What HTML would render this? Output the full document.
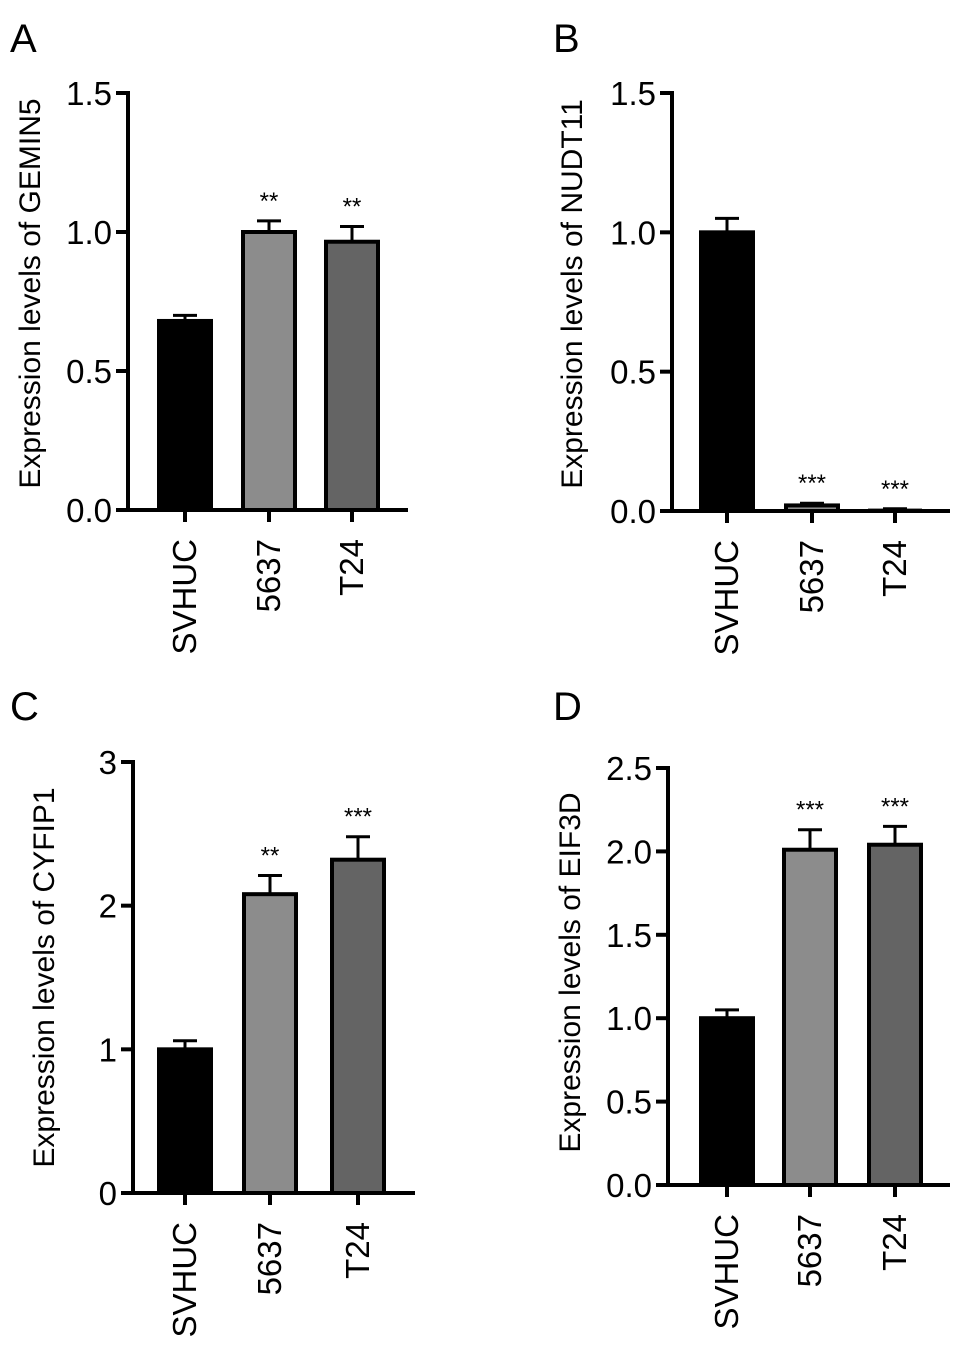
<!DOCTYPE html>
<html><head><meta charset="utf-8"><style>
body{margin:0;background:#fff;}
svg{display:block;font-family:"Liberation Sans",Arial,sans-serif;}
</style></head><body>
<svg id="c" width="969" height="1349" viewBox="0 0 969 1349"></svg>
<script>
const categories=["SVHUC","5637","T24"];
const valsA=[0.68,1.0,0.965], errA=[0.02,0.04,0.055], sigA=["","**","**"];
const valsB=[1.0,0.02,0.005], errB=[0.05,0.008,0.003], sigB=["","***","***"];
const valsC=[1.0,2.08,2.32], errC=[0.06,0.13,0.16], sigC=["","**","***"];
const valsD=[1.0,2.01,2.04], errD=[0.05,0.12,0.11], sigD=["","***","***"];
const ticksA=["0.0","0.5","1.0","1.5"], ticksB=["0.0","0.5","1.0","1.5"], ticksC=["0","1","2","3"], ticksD=["0.0","0.5","1.0","1.5","2.0","2.5"];
const fills=["#000","#8c8c8c","#646464"];
const NS="http://www.w3.org/2000/svg";
const svg=document.getElementById('c');
function el(t,a,p){const e=document.createElementNS(NS,t);for(const k in a)e.setAttribute(k,a[k]);(p||svg).appendChild(e);return e;}
function panel(o){
  const g=el('g',{});
  
  
  const max=parseFloat(o.ticks[o.ticks.length-1]);
  const y=v=>o.y0-(v/max)*(o.y0-o.yTop);
  const lt=el('text',{x:o.lx,y:o.ly,'font-size':40},g);lt.textContent=o.letter;
  
  const ax=el('line',{x1:o.ax,y1:o.yTop-2,x2:o.ax,y2:o.y0+2,stroke:'#000','stroke-width':4},g);
  
  const xa=el('line',{x1:o.ax-2,y1:o.y0,x2:o.xEnd,y2:o.y0,stroke:'#000','stroke-width':4},g);
  
  o.ticks.forEach(t=>{const v=parseFloat(t),yy=y(v);
    el('line',{x1:o.ax-12,y1:yy,x2:o.ax,y2:yy,stroke:'#000','stroke-width':4},g);
    const tx=el('text',{x:o.ax-16,y:yy+12,'font-size':33,'text-anchor':'end'},g);tx.textContent=t;
    });
  const yt=el('text',{x:0,y:0,'font-size':30,'text-anchor':'middle',transform:`translate(${o.tx},${(o.yTop+o.y0)/2+o.tdy}) rotate(-90)`},g);
  yt.textContent=o.title;
  o.vals.forEach((v,i)=>{const cx=o.cx[i],w=52,top=y(v);
    const h=Math.max(o.y0-top,0);
    const b=el('rect',{x:cx-w/2,y:top,width:w,height:h,fill:fills[i],stroke:'#000','stroke-width':h>3?4:2},g);
    
    const et=y(v+o.err[i]);
    el('line',{x1:cx,y1:top,x2:cx,y2:et,stroke:'#000','stroke-width':3},g);
    const cap=el('line',{x1:cx-12,y1:et,x2:cx+12,y2:et,stroke:'#000','stroke-width':3},g);
    
    if(o.sig[i]){const s=el('text',{x:cx,y:et-12,'font-size':24,'text-anchor':'middle'},g);s.textContent=o.sig[i];
      }
    el('line',{x1:cx,y1:o.y0,x2:cx,y2:o.y0+12,stroke:'#000','stroke-width':4},g);
    const cl=el('text',{x:0,y:0,'font-size':33,'text-anchor':'end',transform:`translate(${cx+11},${o.y0+29}) rotate(-90)`},g);
    cl.textContent=categories[i];
  });
}
panel({letter:'A',lx:10,ly:52,ax:128,yTop:93,y0:510,xEnd:408,tx:40,tdy:-8,title:'Expression levels of GEMIN5',ticks:ticksA,vals:valsA,err:errA,sig:sigA,cx:[185,269,352]});
panel({letter:'B',lx:553,ly:52,ax:672,yTop:93,y0:511,xEnd:950,tx:582,tdy:-8,title:'Expression levels of NUDT11',ticks:ticksB,vals:valsB,err:errB,sig:sigB,cx:[727,812,895]});
panel({letter:'C',lx:10,ly:720,ax:133,yTop:762,y0:1193,xEnd:415,tx:54,tdy:0,title:'Expression levels of CYFIP1',ticks:ticksC,vals:valsC,err:errC,sig:sigC,cx:[185,270,358]});
panel({letter:'D',lx:553,ly:720,ax:668,yTop:768,y0:1185,xEnd:950,tx:580,tdy:-4,title:'Expression levels of EIF3D',ticks:ticksD,vals:valsD,err:errD,sig:sigD,cx:[727,810,895]});
</script>
</body></html>
